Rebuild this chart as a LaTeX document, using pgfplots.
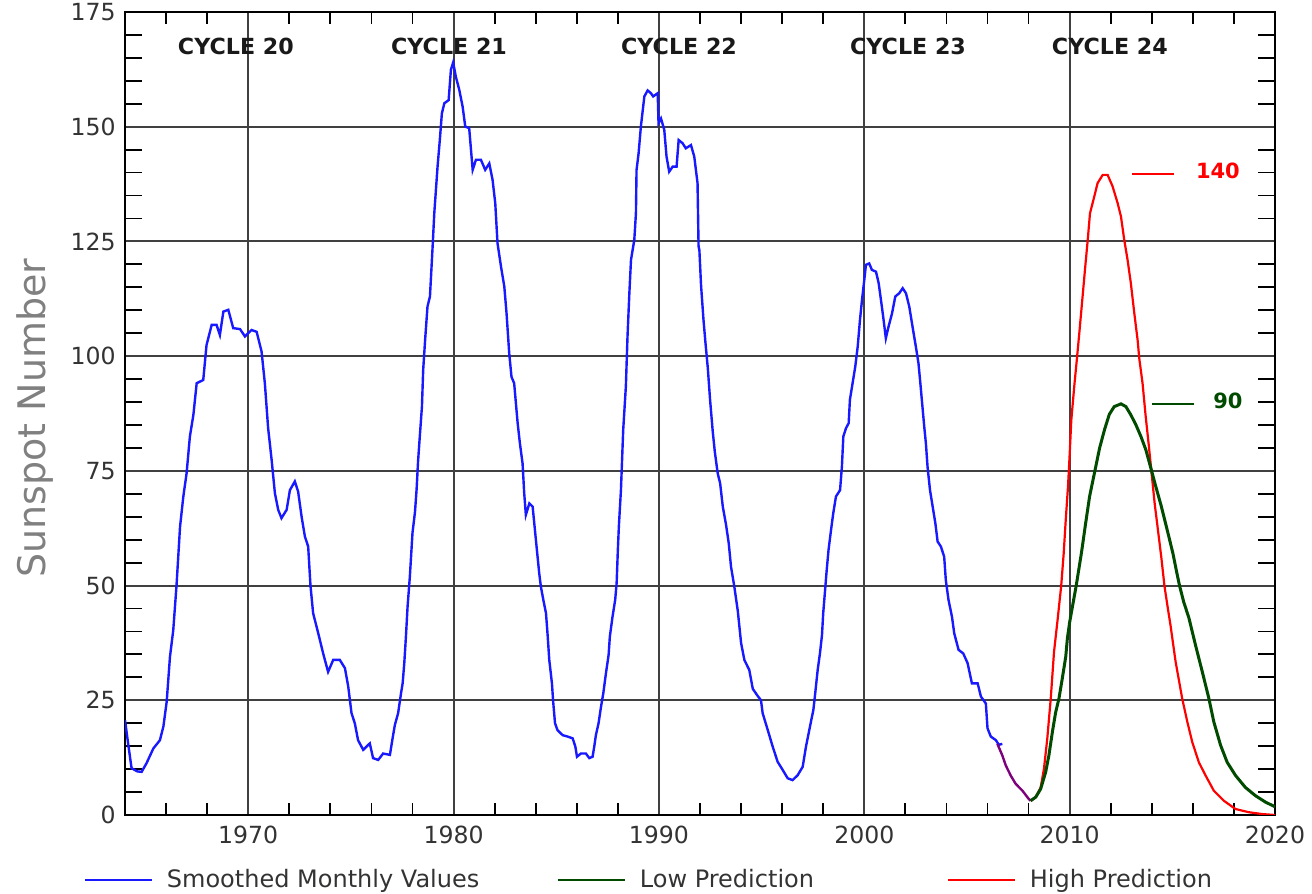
\documentclass[border=0pt]{standalone}
\usepackage{fontspec}
\setmainfont{DejaVu Sans}
\usepackage{pgfplots}
\pgfplotsset{compat=1.18}
\definecolor{cblue}{RGB}{25,25,255}
\definecolor{cgreen}{RGB}{0,75,0}
\definecolor{cred}{RGB}{255,0,0}
\definecolor{cpurple}{RGB}{125,0,125}
\definecolor{cgray}{RGB}{128,128,128}
\begin{document}
\begin{tikzpicture}
\path[use as bounding box] (0,0) rectangle (656pt,447pt);
\begin{axis}[
  at={(62.5pt,39.5pt)}, anchor=south west,
  scale only axis, width=575pt, height=401.5pt,
  xmin=1964, xmax=2020, ymin=0, ymax=175,
  xtick={1970,1980,1990,2000,2010,2020},
  ytick={0,25,50,75,100,125,150,175},
  minor xtick={1966,1968,1972,1974,1976,1978,1982,1984,1986,1988,1992,1994,1996,1998,2002,2004,2006,2008,2012,2014,2016,2018},
  minor ytick={5,10,15,20,30,35,40,45,55,60,65,70,80,85,90,95,105,110,115,120,130,135,140,145,155,160,165,170},
  tick pos=both, tick align=inside,
  major tick length=0pt,
  minor tick length=8.5pt,
  minor x tick style={/pgfplots/minor tick length=6pt},
  every tick/.style={black, line width=0.9pt},
  axis line style={black, line width=1pt},
  grid=major,
  major grid style={black!75, line width=1pt},
  /pgf/number format/assume math mode=true,
  /pgf/number format/1000 sep={},
  xticklabel style={font=\fontsize{11.8}{14}\selectfont, text=black!80, inner sep=0pt, anchor=north, yshift=-5.5pt},
  yticklabel style={font=\fontsize{11.8}{14}\selectfont, text=black!80, inner sep=0pt, anchor=east, xshift=-4.5pt},
  ylabel={Sunspot Number},
  ylabel style={font=\fontsize{19}{22}\selectfont, text=cgray, at={(axis description cs:-0.0783,0.494)}, anchor=center, rotate=0},
  legend columns=3,
  legend image code/.code={\draw[#1] (0pt,0pt) -- (33.5pt,0pt);},
  legend style={at={(axis description cs:-0.0357,-0.0809)}, anchor=west, draw=none, fill=none,
     inner sep=0pt, outer sep=0pt, column sep=0pt,
     nodes={inner sep=0pt, outer sep=0pt, font=\fontsize{12}{14}\selectfont, text=black!80}},
  clip=true,
]
% Smoothed monthly values
\addplot[cblue, line width=1.2pt, forget plot] coordinates {
(1964.00,20.7)(1964.16,15.3)(1964.32,10.2)(1964.60,9.5)(1964.81,9.4)(1965.05,11.3)(1965.38,14.5)(1965.70,16.3)(1965.87,19.3)
(1966.03,24.7)(1966.19,34.5)(1966.35,40.3)(1966.51,50.1)(1966.68,62.8)(1966.84,69.4)(1967.00,74.5)(1967.16,82.5)(1967.33,87.2)
(1967.49,94.1)(1967.81,94.8)(1967.97,102.4)(1968.22,106.8)(1968.46,106.8)(1968.62,104.6)(1968.79,109.7)(1969.03,110.1)(1969.27,106.1)
(1969.60,105.9)(1969.84,104.3)(1970.16,105.7)(1970.41,105.3)(1970.65,101.0)(1970.81,94.1)(1970.97,84.3)(1971.14,77.4)(1971.30,70.1)
(1971.46,66.5)(1971.62,64.7)(1971.87,66.5)(1972.03,70.8)(1972.27,72.7)(1972.43,70.5)(1972.60,65.0)(1972.76,60.7)(1972.92,58.5)
(1973.03,50.1)(1973.16,44.0)(1973.41,39.6)(1973.65,35.2)(1973.89,31.2)(1974.14,33.8)(1974.46,33.8)(1974.71,32.0)(1974.87,28.0)
(1975.03,22.2)(1975.19,20.0)(1975.35,16.3)(1975.60,14.2)(1975.92,15.6)(1976.08,12.4)(1976.33,12.0)(1976.57,13.4)(1976.90,13.1)
(1977.03,16.7)(1977.14,19.6)(1977.30,22.2)(1977.44,26.5)(1977.52,28.7)(1977.60,33.1)(1977.68,38.9)(1977.76,45.4)(1977.87,51.9)
(1978.00,61.5)(1978.12,66.0)(1978.20,71.0)(1978.27,77.0)(1978.36,82.8)(1978.46,89.0)(1978.52,97.0)(1978.62,103.9)(1978.73,110.8)
(1978.85,113.0)(1978.98,123.9)(1979.06,131.1)(1979.14,136.2)(1979.22,141.3)(1979.33,147.1)(1979.43,152.9)(1979.55,155.1)(1979.76,155.8)
(1979.87,162.4)(1979.98,164.0)(1980.11,160.9)(1980.28,158.0)(1980.44,154.4)(1980.57,150.0)(1980.76,149.7)(1980.93,140.6)(1981.09,142.8)
(1981.33,142.8)(1981.54,140.6)(1981.74,142.0)(1981.90,138.4)(1982.03,133.3)(1982.14,124.6)(1982.31,119.5)(1982.47,115.2)(1982.58,109.3)
(1982.71,100.6)(1982.82,95.5)(1982.95,94.1)(1983.12,85.4)(1983.23,81.0)(1983.36,76.6)(1983.44,70.1)(1983.52,65.4)(1983.69,67.9)
(1983.85,67.2)(1984.01,59.9)(1984.09,56.3)(1984.17,52.7)(1984.25,49.8)(1984.37,46.9)(1984.50,44.0)(1984.58,39.2)(1984.66,33.8)
(1984.79,28.7)(1984.85,24.7)(1984.94,20.0)(1985.06,18.5)(1985.31,17.4)(1985.55,17.1)(1985.80,16.7)(1985.93,14.9)(1986.01,12.7)
(1986.20,13.4)(1986.44,13.4)(1986.61,12.4)(1986.77,12.7)(1986.85,14.9)(1986.93,17.4)(1987.06,20.0)(1987.18,23.6)(1987.29,26.5)
(1987.42,30.9)(1987.55,34.9)(1987.61,38.9)(1987.74,43.2)(1987.87,46.9)(1987.94,50.5)(1988.00,57.8)(1988.05,63.0)(1988.15,70.8)
(1988.26,83.9)(1988.39,93.4)(1988.47,104.3)(1988.56,113.7)(1988.64,121.0)(1988.80,125.3)(1988.88,131.1)(1988.91,140.6)(1989.01,144.2)
(1989.12,150.0)(1989.29,156.6)(1989.45,157.9)(1989.61,157.3)(1989.72,156.6)(1989.94,157.3)(1989.98,150.8)(1990.10,151.8)(1990.26,149.3)
(1990.37,143.5)(1990.50,140.2)(1990.67,141.3)(1990.86,141.3)(1990.96,147.1)(1991.15,146.4)(1991.31,145.3)(1991.56,146.0)(1991.72,143.5)
(1991.88,137.7)(1991.93,123.9)(1991.97,123.1)(1992.05,115.5)(1992.17,107.9)(1992.26,103.2)(1992.38,97.4)(1992.49,90.5)(1992.62,83.6)
(1992.72,79.2)(1992.86,74.5)(1992.98,72.3)(1993.11,67.2)(1993.27,63.2)(1993.40,59.2)(1993.51,54.1)(1993.67,49.8)(1993.84,44.5)
(1994.00,37.5)(1994.16,33.8)(1994.40,31.6)(1994.57,27.5)(1994.80,26.0)(1994.97,25.0)(1995.05,22.2)(1995.30,18.5)(1995.54,14.9)
(1995.78,11.6)(1996.03,9.8)(1996.27,8.0)(1996.51,7.6)(1996.76,8.7)(1997.00,10.5)(1997.16,14.9)(1997.32,18.5)(1997.52,22.9)
(1997.61,26.5)(1997.73,31.6)(1997.84,35.2)(1997.94,39.2)(1998.00,44.0)(1998.10,49.5)(1998.17,53.4)(1998.26,57.8)(1998.38,62.1)
(1998.49,65.8)(1998.62,69.4)(1998.82,70.8)(1998.91,75.9)(1998.98,82.5)(1999.11,84.3)(1999.24,85.4)(1999.30,90.5)(1999.43,94.1)
(1999.56,97.7)(1999.68,102.1)(1999.79,107.9)(1999.89,112.3)(2000.00,116.6)(2000.08,119.9)(2000.24,120.2)(2000.37,118.8)(2000.57,118.4)
(2000.70,115.9)(2000.81,112.3)(2000.92,108.6)(2001.05,103.9)(2001.18,106.4)(2001.35,109.3)(2001.51,113.0)(2001.70,113.7)(2001.87,114.8)
(2002.03,113.7)(2002.19,110.8)(2002.35,106.4)(2002.51,102.1)(2002.64,98.4)(2002.73,94.1)(2002.81,90.1)(2002.92,84.6)(2003.00,81.0)
(2003.08,75.9)(2003.20,70.8)(2003.33,67.2)(2003.46,63.6)(2003.57,59.6)(2003.73,58.5)(2003.89,56.3)(2003.97,51.2)(2004.10,46.9)
(2004.27,43.2)(2004.38,39.6)(2004.59,36.0)(2004.82,35.2)(2005.03,33.1)(2005.24,28.7)(2005.52,28.7)(2005.68,25.8)(2005.92,24.3)
(2006.00,18.9)(2006.16,17.1)(2006.41,16.3)(2006.55,15.3)(2006.72,15.5)
};
% overlap segment
\addplot[cpurple, line width=1.2pt, forget plot] coordinates {
(2006.48,15.5)(2006.72,13.0)(2006.89,10.8)(2007.13,8.6)(2007.37,6.8)(2007.70,5.3)(2007.99,3.6)(2008.10,3.1)
};
% High prediction
\addplot[cred, line width=1.1pt, forget plot] coordinates {
(2008.10,3.1)(2008.35,3.9)(2008.59,6.0)(2008.75,10.1)(2008.91,16.6)(2009.08,25.4)(2009.24,35.6)(2009.40,42.0)(2009.59,50.0)
(2009.71,57.0)(2009.81,64.3)(2009.92,71.6)(2010.00,78.5)(2010.08,86.0)(2010.23,93.7)(2010.34,98.8)(2010.47,105.0)(2010.60,111.5)
(2010.76,119.5)(2010.88,125.3)(2010.99,131.1)(2011.20,134.8)(2011.36,137.7)(2011.61,139.5)(2011.85,139.5)(2012.09,137.0)(2012.34,133.3)
(2012.50,130.4)(2012.66,125.3)(2012.82,121.0)(2012.98,115.9)(2013.15,109.3)(2013.31,103.5)(2013.39,99.5)(2013.55,94.1)(2013.70,87.0)
(2013.86,80.3)(2013.99,74.5)(2014.14,67.9)(2014.30,62.1)(2014.46,56.3)(2014.62,49.8)(2014.80,44.5)(2014.91,41.4)(2015.16,33.4)
(2015.48,25.4)(2015.73,20.3)(2015.97,15.9)(2016.29,11.5)(2016.62,8.6)(2017.02,5.3)(2017.51,3.1)(2018.08,1.3)(2018.73,0.6)
(2019.38,0.2)(2020.00,0.0)
};
% Low prediction
\addplot[cgreen, line width=1.5pt, forget plot] coordinates {
(2008.10,3.1)(2008.35,3.9)(2008.59,5.7)(2008.83,9.3)(2008.99,13.0)(2009.16,18.1)(2009.32,22.4)(2009.48,25.4)(2009.64,29.7)
(2009.81,34.5)(2009.89,38.5)(2010.00,42.0)(2010.08,44.0)(2010.32,50.0)(2010.57,57.0)(2010.78,63.6)(2010.97,69.4)(2011.22,74.8)
(2011.46,80.0)(2011.70,84.0)(2011.93,87.3)(2012.17,89.0)(2012.50,89.6)(2012.74,89.0)(2012.98,87.2)(2013.23,85.0)(2013.47,82.5)
(2013.71,79.6)(2013.96,75.5)(2014.20,71.5)(2014.45,67.5)(2014.79,61.4)(2015.03,57.0)(2015.19,53.4)(2015.35,50.0)(2015.55,46.5)
(2015.81,42.9)(2016.13,37.0)(2016.46,31.2)(2016.78,25.4)(2017.02,20.3)(2017.35,15.2)(2017.67,11.5)(2018.08,8.6)(2018.56,6.0)
(2019.05,4.2)(2019.54,2.8)(2020.00,1.8)
};
\addlegendimage{cblue, line width=1pt}
\addlegendentry{\makebox[202pt][l]{\hspace{7pt}Smoothed Monthly Values}}
\addlegendimage{cgreen, line width=1pt}
\addlegendentry{\makebox[160.5pt][l]{\hspace{7pt}Low Prediction}}
\addlegendimage{cred, line width=1pt}
\addlegendentry{\makebox[100pt][l]{\hspace{7pt}High Prediction}}
% cycle labels
\node[font=\bfseries\fontsize{11.1}{13}\selectfont, text=black!90] at (axis cs:1969.40,167.4) {CYCLE 20};
\node[font=\bfseries\fontsize{11.1}{13}\selectfont, text=black!90] at (axis cs:1979.78,167.4) {CYCLE 21};
\node[font=\bfseries\fontsize{11.1}{13}\selectfont, text=black!90] at (axis cs:1990.98,167.4) {CYCLE 22};
\node[font=\bfseries\fontsize{11.1}{13}\selectfont, text=black!90] at (axis cs:2002.13,167.4) {CYCLE 23};
\node[font=\bfseries\fontsize{11.1}{13}\selectfont, text=black!90] at (axis cs:2011.96,167.4) {CYCLE 24};
% peak annotations
\draw[cred, line width=1pt] (axis cs:2013.04,139.7) -- (axis cs:2015.08,139.7);
\node[font=\bfseries\fontsize{10.5}{12}\selectfont, text=cred] at (axis cs:2017.22,140.3) {140};
\draw[cgreen, line width=1pt] (axis cs:2014.01,89.6) -- (axis cs:2016.06,89.6);
\node[font=\bfseries\fontsize{10.5}{12}\selectfont, text=cgreen] at (axis cs:2017.71,90.3) {90};
\end{axis}
\end{tikzpicture}
\end{document}
